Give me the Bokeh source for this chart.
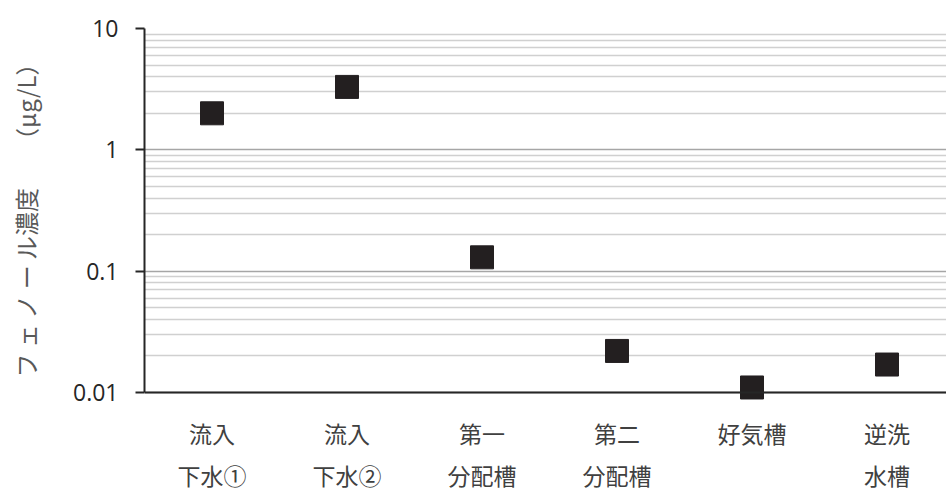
from bokeh.plotting import figure
from bokeh.models import (ColumnDataSource, FixedTicker, LinearAxis, Range1d,
                          Span, NumeralTickFormatter)
from bokeh.embed import file_html
from bokeh.resources import INLINE

# ---- data ----
categories_line1 = ["流入", "流入", "第一", "第二", "好気槽", "逆洗"]
categories_line2 = ["下水①", "下水②", "分配槽", "分配槽", "", "水槽"]
values = [2.0, 3.3, 0.13, 0.022, 0.011, 0.017]
y_ticks = [0.01, 0.1, 1, 10]
y_label = "フ ェ ノ ー ル濃度　　（μg/L）"

x_pos = list(range(len(values)))
minor = [m * d for d in (0.01, 0.1, 1) for m in range(2, 10)]

# frame: top 28 (10), 0.01 at 392, frame bottom at 400
decade_px = (392 - 28) / 3.0
y_start = 0.01 / 10 ** (8 / decade_px)
x_end = -0.5 + (946 - 144) / 135.0

p = figure(width=946, height=494, output_backend="svg", toolbar_location=None,
           y_axis_type="log", x_axis_location=None,
           x_range=Range1d(-0.5, x_end), y_range=Range1d(y_start, 10),
           min_border_left=144, min_border_right=0, min_border_top=28,
           min_border_bottom=94)
p.outline_line_color = None
p.background_fill_color = "white"
p.border_fill_color = "white"

ticker = FixedTicker(ticks=y_ticks, minor_ticks=minor)
ya = p.yaxis[0]
ya.ticker = ticker
ya.formatter = NumeralTickFormatter(format="0.[00]")
ya.bounds = (0.01, 10)
ya.axis_line_color = "#262626"
ya.axis_line_width = 2
ya.major_tick_line_color = "#262626"
ya.major_tick_line_width = 2
ya.major_tick_out = 9
ya.major_tick_in = 0
ya.minor_tick_line_color = None
ya.major_label_text_font = "Open Sans"
ya.major_label_text_font_size = "23px"
ya.major_label_text_color = "#262626"
ya.major_label_standoff = 17
ya.axis_label = y_label
ya.axis_label_text_font = "Noto Sans CJK JP"
ya.axis_label_text_font_size = "24px"
ya.axis_label_text_font_style = "normal"
ya.axis_label_text_color = "#595959"
ya.axis_label_standoff = 27

for g in p.ygrid:
    g.ticker = ticker
    g.grid_line_color = "#a6a6a6"
    g.grid_line_width = 1.5
    g.minor_grid_line_color = "#d0d0d0"
    g.minor_grid_line_width = 1.5
for g in p.xgrid:
    g.visible = False

src = ColumnDataSource(dict(x=x_pos, y=values))
p.scatter("x", "y", source=src, marker="square", size=23,
          fill_color="#231f20", line_color="#231f20")

p.add_layout(Span(location=0.01, dimension="width", line_color="#262626",
                  line_width=2))

def cat_axis(labels, standoff):
    ax = LinearAxis(ticker=FixedTicker(ticks=x_pos),
                    major_label_overrides={i: t for i, t in zip(x_pos, labels)})
    ax.axis_line_color = None
    ax.major_tick_line_color = None
    ax.minor_tick_line_color = None
    ax.major_tick_out = 0
    ax.major_tick_in = 0
    ax.major_label_standoff = standoff
    ax.major_label_text_font = "Noto Sans CJK JP"
    ax.major_label_text_font_size = "23px"
    ax.major_label_text_color = "#404040"
    return ax

p.add_layout(cat_axis(categories_line1, 15), "below")
p.add_layout(cat_axis(categories_line2, 5), "below")

open("out.html", "w").write(file_html(p, INLINE))
